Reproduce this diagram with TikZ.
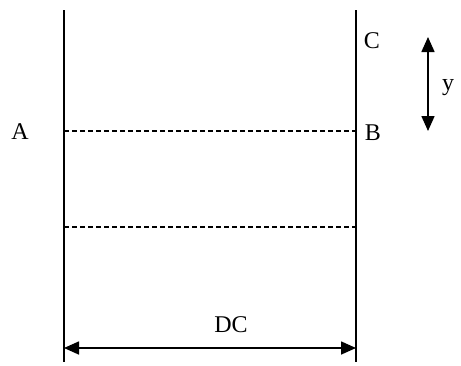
\documentclass[tikz,border=0pt]{standalone}
\usepackage{fontspec}
\setmainfont{Liberation Serif}
\usetikzlibrary{arrows.meta}
\begin{document}
\begin{tikzpicture}[x=0.5pt,y=-0.5pt,
  wall/.style={line width=0.8pt},
  dash line/.style={line width=0.6pt, dash pattern=on 2.5pt off 1.5pt},
  dim/.style={line width=0.8pt, {Triangle[length=7.5pt,width=6.5pt]}-{Triangle[length=7.5pt,width=6.5pt]}},
  lbl/.style={font=\fontsize{12}{14}\selectfont, inner sep=0pt}]
\useasboundingbox (0,0) rectangle (461,365);
\coordinate (LT) at (64,10);
\coordinate (LB) at (64,362);
\coordinate (RT) at (356,10);
\coordinate (RB) at (356,362);
\draw[wall] (LT) -- (LB);
\draw[wall] (RT) -- (RB);
\coordinate (d1l) at (64,131);
\coordinate (d1r) at (356,131);
\coordinate (d2l) at (64,227);
\coordinate (d2r) at (356,227);
\draw[dash line] (d1l) -- (d1r);
\draw[dash line] (d2l) -- (d2r);
\coordinate (al) at (64,348);
\coordinate (ar) at (356,348);
\draw[dim] (al) -- (ar);
\coordinate (yt) at (428,37);
\coordinate (yb) at (428,131);
\draw[dim] (yt) -- (yb);
\node[lbl] (A) at (20,132) {A};
\node[lbl] (B) at (373,133) {B};
\node[lbl] (C) at (372,41) {C};
\node[lbl] (y) at (448,88) {y};
\node[lbl] (DC) at (231,325) {DC};
\end{tikzpicture}
\end{document}
